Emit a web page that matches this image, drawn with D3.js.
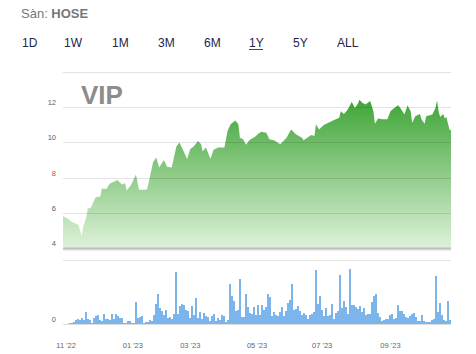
<!DOCTYPE html>
<html>
<head>
<meta charset="utf-8">
<script src="https://cdn.jsdelivr.net/npm/d3@7"></script>
<style>
  body { margin: 0; background: #fff; }
  svg { display: block; font-family: "Liberation Sans", Arial, sans-serif; }
</style>
</head>
<body>
<div id="chart"></div>
<script>
const width = 476;
const height = 354;

// trading-day index (0 = 28 Oct 2022) and close price (thousand VND)
const priceDay = [0,3,6,8,10,12,13,15,16,18,21,24,25,28,30,32,35,38,40,41,44,47,49,54,55,58,60,62,65,67,70,71,73,75,77,80,82,84,87,89,90,92,95,97,100,104,106,108,111,113,114,116,118,120,124,126,128,131,133,136,140,144,147,150,154,155,160,162,163,165,168,171,174,178,179,181,183,184,186,187,188,190,191,193,195,197,198,200,201,203,206,209,211,213,216,218,220,222,224,225,227,230,231,233,234,238,240,241,242,243,245,246,247,249,250];
const priceClose = [5.80,5.67,5.46,5.39,5.30,4.68,5.20,5.76,6.24,6.29,6.89,6.93,7.38,7.35,7.65,7.74,7.87,7.61,7.68,7.27,7.61,8.17,7.31,7.31,7.65,8.86,9.14,8.58,9.00,8.62,8.58,8.96,9.75,9.99,9.62,9.05,9.62,9.75,10.08,9.90,9.48,9.72,9.07,9.58,9.71,9.71,10.65,11.03,11.25,11.03,10.27,10.18,9.86,10.12,10.34,10.50,10.61,10.55,10.18,10.12,9.90,10.27,10.74,10.46,10.27,10.12,10.42,10.37,11.03,10.74,10.99,11.12,11.25,11.40,11.77,11.62,11.81,11.96,12.30,12.15,11.96,12.19,12.43,12.24,12.15,12.30,12.34,11.77,11.06,11.36,11.31,11.31,11.77,11.93,12.11,11.87,11.59,12.10,11.77,11.12,11.49,11.62,11.31,11.06,11.49,11.59,11.96,12.38,11.77,11.44,11.62,11.36,11.44,10.74,10.69];

// volume (x100k shares), one bar per column
const volume = [0,0,0.3,1,1,2,4,5,4,6, 4,12,5,4,1,6,8,9,4,3, 10,5,5,4,10,5,10,8,6,6, 1,1,3,3,1,1,22,6,7,8,
  1,2,2,4,3,9,20,30,16,13, 9,14,6,7,5,10,52,10,18,20, 19,14,13,6,18,9,26,6,12,5, 11,8,7,3,8,10,3,6,4,9,
  8,2,4,40,28,23,13,14,45,7, 7,30,17,11,10,17,9,19,9,19, 14,17,30,27,8,12,9,8,12,17, 8,13,21,24,40,14,15,18,13,9,
  11,9,5,9,10,12,54,20,28,14, 8,16,8,9,20,5,11,13,49,16, 23,17,10,55,19,19,17,15,18,12, 16,9,10,10,22,28,30,11,7,3,
  4,5,5,9,10,5,6,19,13,13, 10,7,6,8,10,11,7,3,3,9, 3,2,2,2,4,5,48,12,21,9, 4,3,23,4];

const priceTicks = [4, 6, 8, 10, 12, 14];
const monthLabels = ["11 '22", "01 '23", "03 '23", "05 '23", "07 '23", "09 '23"];
const monthDay = [2, 45, 82, 125, 167, 211];
const ranges = ["1D", "1W", "1M", "3M", "6M", "1Y", "5Y", "ALL"];
const rangeX = [22, 64, 112, 158, 204, 249, 293, 337];

const plotLeft = 63, plotRight = 451;

const svg = d3.select("#chart").append("svg")
  .attr("width", width).attr("height", height);

// header
const hdr = svg.append("text").attr("x", 21).attr("y", 18)
  .attr("font-size", 13).attr("fill", "#777");
hdr.append("tspan").text("Sàn: ");
hdr.append("tspan").attr("font-weight", "bold").text("HOSE");

svg.selectAll(".range").data(ranges).join("text")
  .attr("class", "range")
  .attr("x", (d, i) => rangeX[i]).attr("y", 47)
  .attr("font-size", 12).attr("fill", "#23234a")
  .text(d => d);
svg.append("line")
  .attr("x1", 249).attr("x2", 263).attr("y1", 49.5).attr("y2", 49.5)
  .attr("stroke", "#4b3b8f").attr("stroke-width", 1);

// scales
const x = d3.scaleLinear().domain([0, 250]).range([plotLeft, plotRight]);
const y = d3.scaleLinear().domain([4, 14]).range([248, 72]);

const defs = svg.append("defs");
const grad = defs.append("linearGradient").attr("id", "g")
  .attr("gradientUnits", "userSpaceOnUse")
  .attr("x1", 0).attr("x2", 0).attr("y1", y(12.5)).attr("y2", y(4));
grad.append("stop").attr("offset", 0).attr("stop-color", "#3ea536");
grad.append("stop").attr("offset", 1).attr("stop-color", "#ddf1d9");

const series = priceDay.map((d, i) => ({ day: d, close: priceClose[i] }));

svg.append("path")
  .datum(series)
  .attr("fill", "url(#g)")
  .attr("d", d3.area().x(d => x(d.day)).y0(y(4)).y1(d => y(d.close)));

// gridlines over the area
svg.append("g").selectAll("line").data(priceTicks.filter(t => t > 4)).join("line")
  .attr("x1", plotLeft).attr("x2", plotRight)
  .attr("y1", d => Math.round(y(d)) + 0.5).attr("y2", d => Math.round(y(d)) + 0.5)
  .attr("stroke", "#000").attr("stroke-opacity", 0.11);

svg.append("g").selectAll("text").data(priceTicks.filter(t => t < 14)).join("text")
  .attr("x", 56).attr("y", d => y(d) - 2)
  .attr("text-anchor", "end").attr("font-size", 7.5)
  .attr("fill", d => d === 8 ? "#b5534f" : "#5a5d70")
  .text(d => d);

svg.append("text").attr("x", 81).attr("y", 104)
  .attr("font-size", 26).attr("font-weight", "bold").attr("fill", "#8c8c8c")
  .text("VIP");

// bottom band of price pane
svg.append("rect").attr("x", plotLeft).attr("y", 247.5).attr("width", plotRight - plotLeft).attr("height", 2)
  .attr("fill", "#bdbdbd");
svg.append("rect").attr("x", plotLeft).attr("y", 249.5).attr("width", plotRight - plotLeft).attr("height", 1)
  .attr("fill", "#d6d6d6");

// volume pane
const xv = d3.scaleBand().domain(d3.range(volume.length)).range([plotLeft, plotRight]).padding(0);
const yv = d3.scaleLinear().domain([0, 64]).range([324, 260]);

svg.append("line").attr("x1", plotLeft).attr("x2", plotRight).attr("y1", 260.5).attr("y2", 260.5)
  .attr("stroke", "#e4e4e4");

svg.append("g").selectAll("rect").data(volume).join("rect")
  .attr("x", (d, i) => xv(i)).attr("width", xv.bandwidth())
  .attr("y", d => yv(d)).attr("height", d => yv(0) - yv(d))
  .attr("fill", "#7cb5ec");

svg.append("line").attr("x1", plotLeft).attr("x2", plotRight).attr("y1", 324.5).attr("y2", 324.5)
  .attr("stroke", "#dedede");

svg.append("text").attr("x", 56).attr("y", 322).attr("text-anchor", "end")
  .attr("font-size", 7.5).attr("fill", "#666").text("0");

svg.append("g").selectAll("text").data(monthLabels).join("text")
  .attr("x", (d, i) => x(monthDay[i])).attr("y", 348)
  .attr("text-anchor", "middle").attr("font-size", 7.5).attr("fill", "#666")
  .text(d => d);
</script>
</body>
</html>
